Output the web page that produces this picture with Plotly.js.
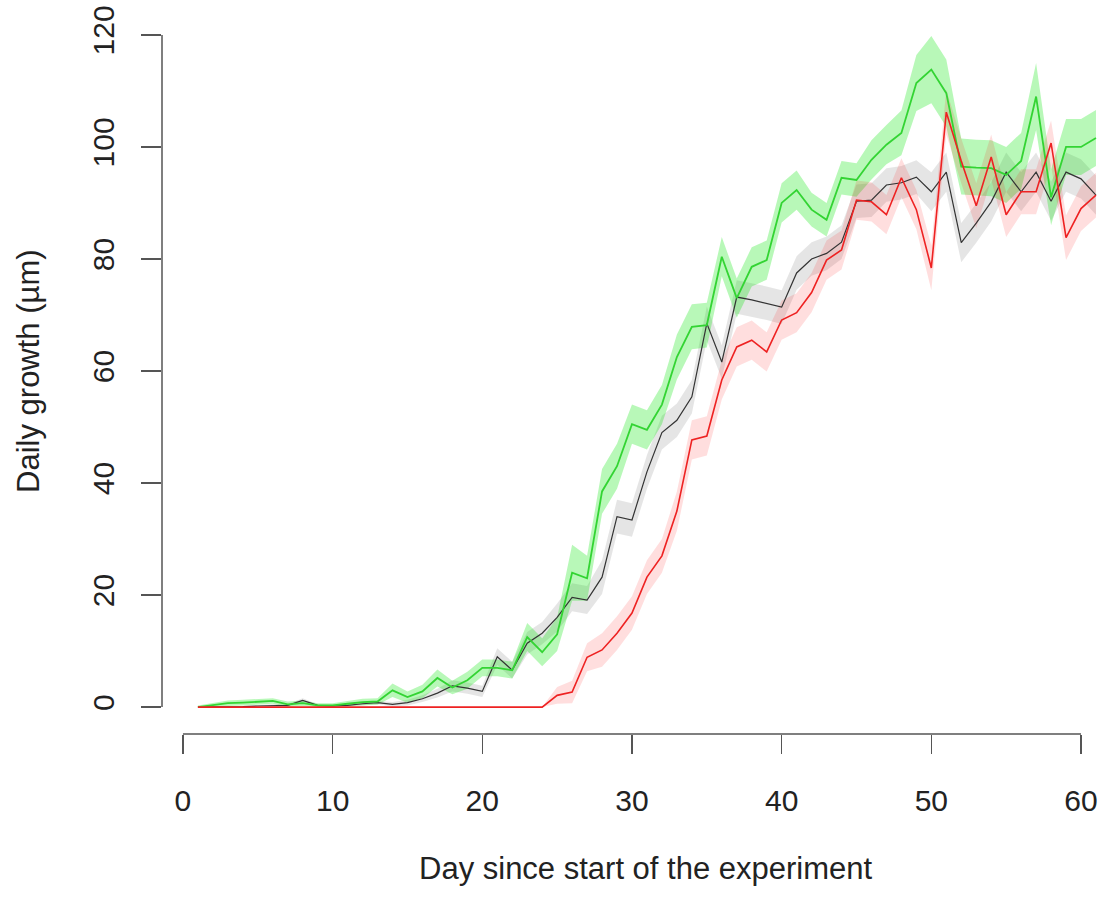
<!DOCTYPE html>
<html>
<head>
<meta charset="utf-8">
<script src="https://cdn.plot.ly/plotly-3.0.1.min.js"></script>
<style>html,body{margin:0;padding:0;background:#fff;overflow:hidden}</style>
</head>
<body>
<div id="chart" style="width:1106px;height:897px"></div>
<script>
const days = [1,2,3,4,5,6,7,8,9,10,11,12,13,14,15,16,17,18,19,20,21,22,23,24,25,26,27,28,29,30,31,32,33,34,35,36,37,38,39,40,41,42,43,44,45,46,47,48,49,50,51,52,53,54,55,56,57,58,59,60,61];

const greenMean = [0,0.4,0.7,0.8,0.9,1.1,0.5,0.7,0.3,0.3,0.6,0.9,1.0,3.0,1.8,2.8,5.2,3.5,4.8,7.0,7.0,6.6,12.5,9.8,13.0,24.0,23.0,38.5,43.0,50.5,49.5,54.0,62.5,67.9,68.2,80.4,73.0,78.6,79.8,90.0,92.3,88.8,87.0,94.5,94.1,97.7,100.4,102.5,111.4,113.8,109.6,96.5,96.3,96.2,95.0,97.5,109.0,91.0,100.0,100.0,101.6];
const greenSE = [0.3,0.4,0.5,0.5,0.5,0.5,0.5,0.5,0.4,0.4,0.5,0.6,0.6,1.2,1.0,1.2,1.5,1.2,1.5,1.5,1.5,1.5,2.5,2.5,3.0,5.0,4.0,4.0,4.0,3.5,3.5,3.5,4.0,4.0,4.0,3.5,3.5,3.5,3.5,3.5,3.5,3.0,3.0,3.0,3.0,3.5,3.5,4.0,5.0,6.0,6.0,5.0,5.0,5.0,5.0,5.0,6.0,5.0,5.0,5.0,5.0];

const blackMean = [0,0,0,0.1,0.2,0.3,0.3,1.2,0.3,0.2,0.3,0.6,0.8,0.5,0.8,1.5,2.5,3.8,3.4,2.8,9.0,6.6,11.4,13.2,16.0,19.6,19.1,23.2,34.0,33.4,42.0,49.0,51.2,55.4,68.5,61.6,73.2,72.7,72.1,71.4,77.5,80.0,81.0,83.0,90.3,90.5,93.2,93.6,94.6,92.0,95.5,82.9,86.4,90.2,95.5,92.0,95.5,90.3,95.5,94.3,91.4];
const blackSE = [0,0,0.1,0.1,0.2,0.2,0.2,0.4,0.2,0.2,0.2,0.3,0.3,0.4,0.5,0.6,0.8,1.0,1.0,1.0,1.5,1.5,2.0,2.0,2.5,2.5,2.5,3.0,3.0,3.0,3.0,3.0,3.0,3.0,3.0,3.0,3.0,3.0,3.0,3.0,3.0,3.0,3.0,3.0,3.0,3.0,3.0,3.0,3.0,3.5,3.5,3.5,3.5,3.5,3.5,3.5,3.5,3.5,3.5,3.5,3.5];

const redMean = [0,0,0,0,0,0,0,0,0,0,0,0,0,0,0,0,0,0,0,0,0,0,0,0,2.1,2.7,8.9,10.2,13.2,16.8,23.2,27.0,35.0,47.7,48.4,58.4,64.3,65.5,63.4,69.1,70.4,74.0,79.8,81.6,90.5,90.2,87.9,94.5,88.8,78.4,106.2,97.5,89.5,98.2,87.9,92.0,92.0,100.7,83.8,89.0,91.4];
const redSE = [0,0,0,0,0,0,0,0,0,0,0,0,0,0,0,0,0,0,0,0,0,0,0,0,1.5,2.0,2.5,3.0,3.0,3.0,3.0,3.0,3.5,3.5,3.5,3.5,3.5,3.5,3.5,3.5,3.5,3.5,3.5,3.5,3.5,3.5,3.5,3.5,3.5,4.0,4.0,4.0,4.0,4.0,4.0,4.0,4.0,4.0,4.0,4.0,4.0];

const xTicks = [0,10,20,30,40,50,60];
const yTicks = [0,20,40,60,80,100,120];
const xTitle = 'Day since start of the experiment';
const yTitle = 'Daily growth (µm)';

function band(mean, se, fill) {
  const up = mean.map((m, i) => m + se[i]);
  const lo = mean.map((m, i) => Math.max(0, m - se[i]));
  return {
    x: days.concat(days.slice().reverse()),
    y: up.concat(lo.slice().reverse()),
    fill: 'toself', fillcolor: fill, line: {width: 0}, mode: 'lines',
    hoverinfo: 'skip', showlegend: false, type: 'scatter'
  };
}
function line(mean, color, w) {
  return {x: days, y: mean, mode: 'lines', line: {color: color, width: w}, showlegend: false, type: 'scatter'};
}

const traces = [
  band(blackMean, blackSE, 'rgba(0,0,0,0.10)'),
  band(greenMean, greenSE, 'rgba(0,230,0,0.28)'),
  band(redMean, redSE, 'rgba(255,0,0,0.13)'),
  line(blackMean, '#333333', 1.2),
  line(greenMean, '#33d433', 1.8),
  line(redMean, '#ee2222', 1.6)
];

const tickFont = {family: 'Liberation Sans, Arial, sans-serif', size: 30, color: '#222'};
const titleFont = {family: 'Liberation Sans, Arial, sans-serif', size: 31, color: '#222'};
const axisCol = '#555';

const layout = {
  width: 1106, height: 897,
  margin: {l: 162, r: 0, t: 8, b: 163},
  paper_bgcolor: '#fff', plot_bgcolor: '#fff',
  font: tickFont,
  showlegend: false,
  xaxis: {
    range: [-1.4, 61.67], showgrid: false, zeroline: false, showline: false,
    tickmode: 'array', tickvals: xTicks, ticktext: xTicks.map(String),
    ticks: 'outside', ticklen: 19, tickwidth: 1.5, tickcolor: axisCol,
    ticklabelstandoff: 21, tickfont: tickFont
  },
  yaxis: {
    range: [-4.8, 124.8], showgrid: false, zeroline: false, showline: false,
    tickmode: 'array', tickvals: yTicks, ticktext: yTicks.map(String),
    ticks: 'outside', ticklen: 20, tickwidth: 1.5, tickcolor: axisCol,
    tickangle: -90, ticklabelstandoff: 15, tickfont: tickFont
  },
  shapes: [
    {type: 'line', xref: 'x', yref: 'paper', x0: xTicks[0], x1: xTicks[xTicks.length-1], y0: 0, y1: 0, line: {color: axisCol, width: 1.5}},
    {type: 'line', xref: 'paper', yref: 'y', x0: 0, x1: 0, y0: yTicks[0], y1: yTicks[yTicks.length-1], line: {color: axisCol, width: 1.5}}
  ],
  annotations: [
    {text: xTitle, xref: 'paper', yref: 'paper', x: 0.5127, y: -0.1846, xanchor: 'center', yanchor: 'middle', showarrow: false, font: titleFont},
    {text: yTitle, xref: 'paper', yref: 'paper', x: -0.142, y: 0.5, xanchor: 'center', yanchor: 'middle', textangle: -90, showarrow: false, font: titleFont}
  ]
};

Plotly.newPlot('chart', traces, layout, {displayModeBar: false, staticPlot: true});
</script>
</body>
</html>
